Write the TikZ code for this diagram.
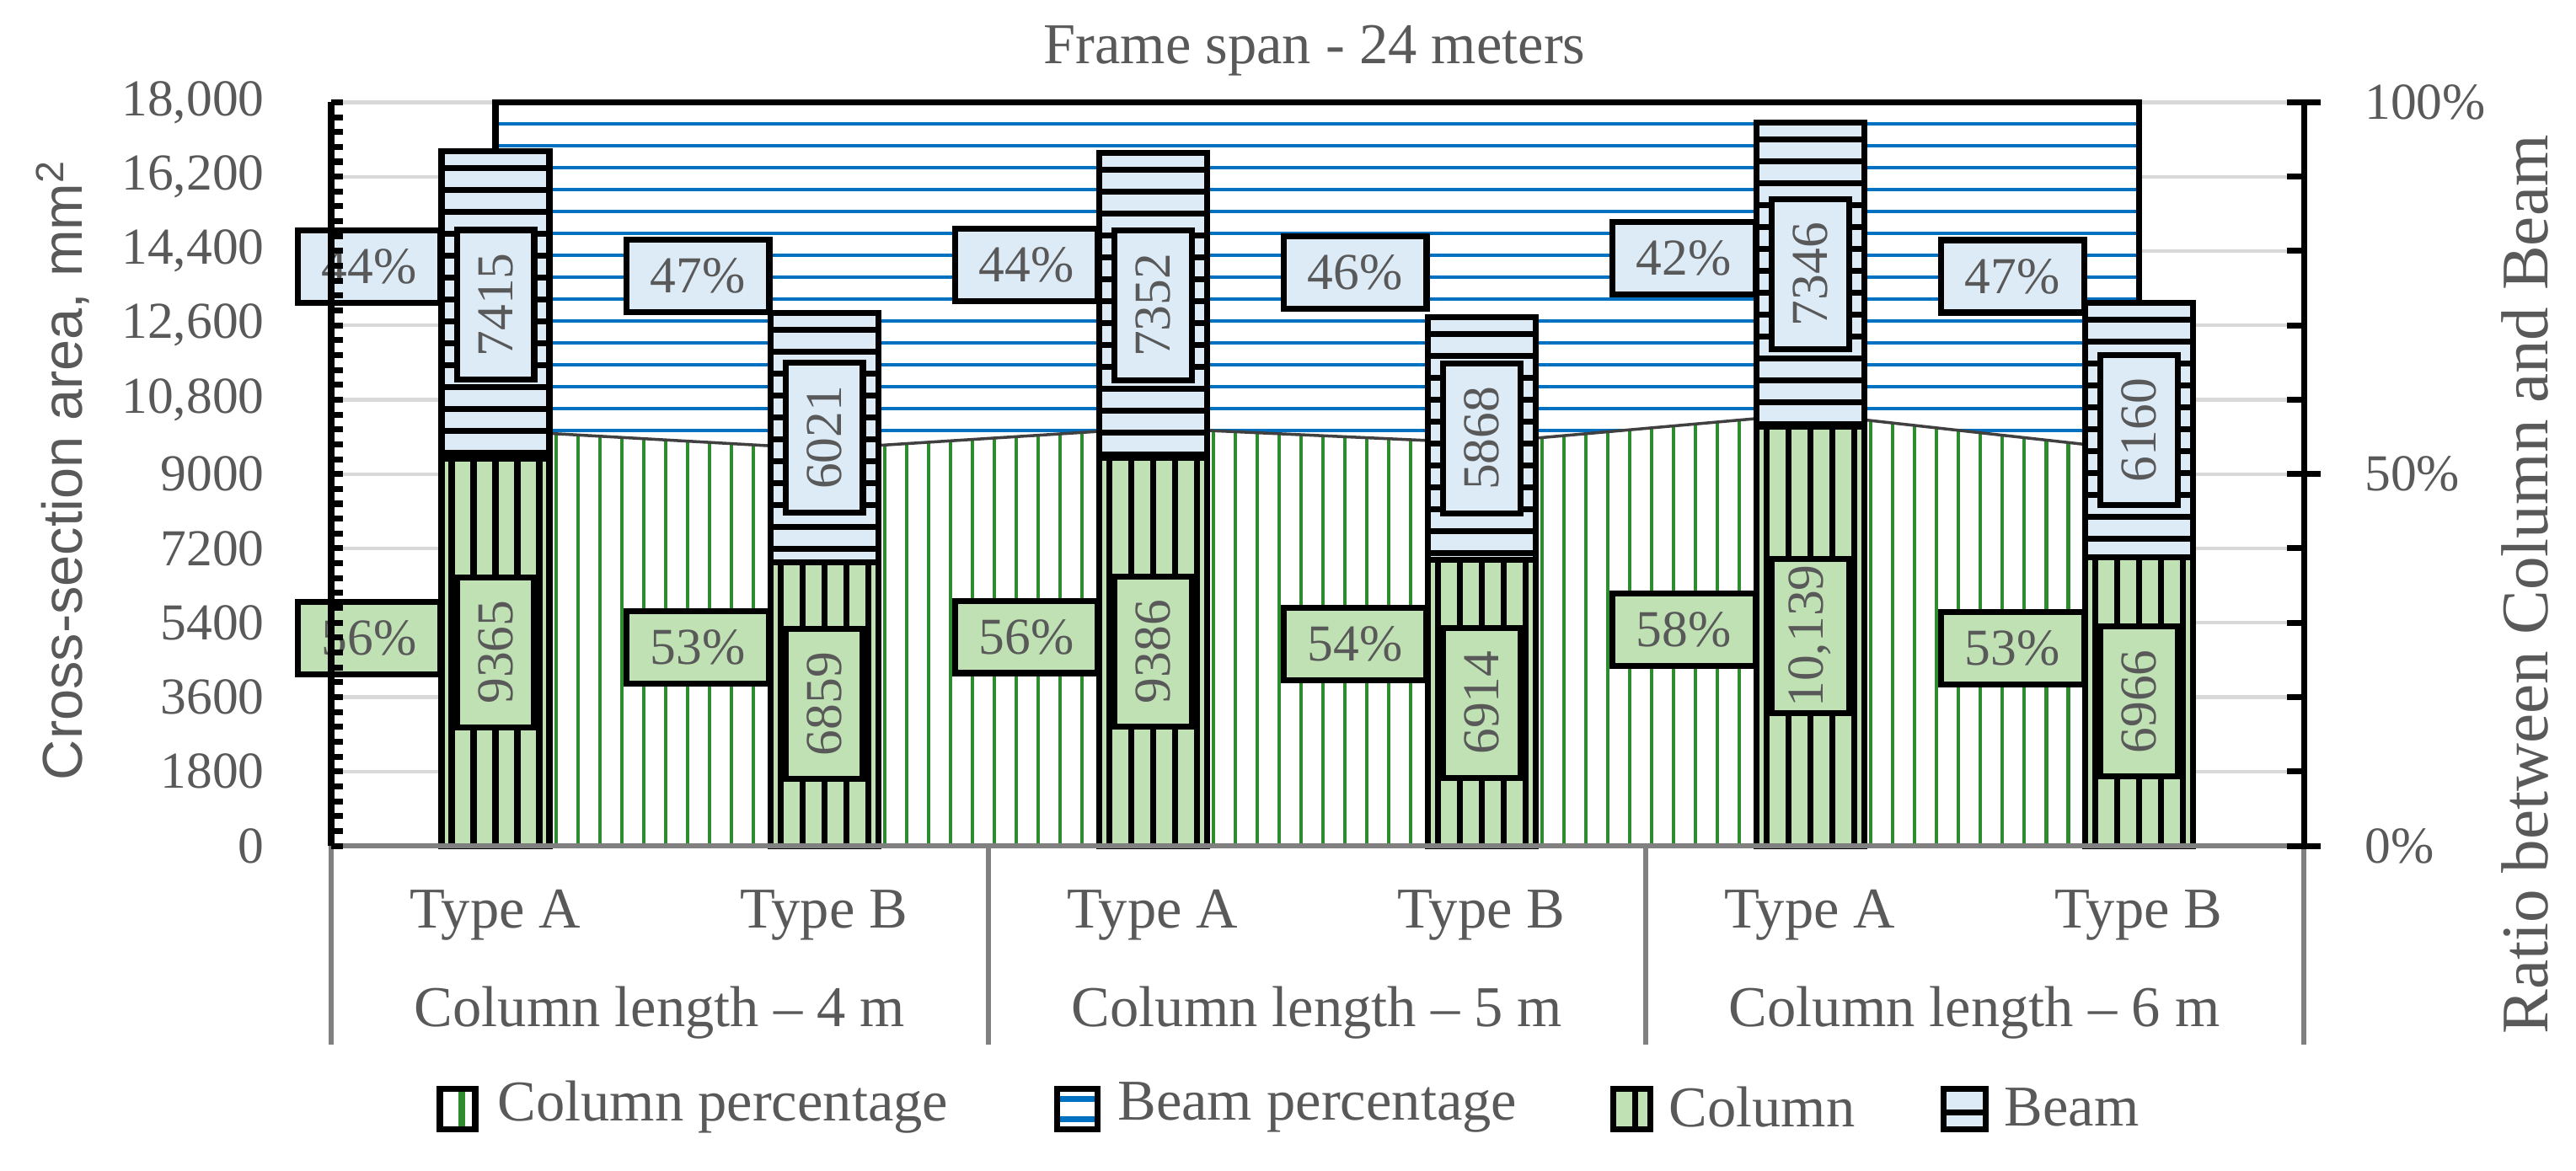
\documentclass[tikz,border=0pt]{standalone}
\usepackage{fontspec}
\setmainfont{Liberation Serif}
\newfontfamily\sansf{Liberation Sans}
\definecolor{txt}{HTML}{595959}
\definecolor{gfill}{HTML}{BFE1B4}
\definecolor{bfill}{HTML}{DDEBF7}
\definecolor{bline}{HTML}{0070C0}
\definecolor{gline}{HTML}{2E8B2E}
\definecolor{gridc}{HTML}{D9D9D9}
\definecolor{axg}{HTML}{808080}
\tikzset{
  tick/.style={font=\fontsize{17.5}{19}\selectfont, text=txt},
  cat/.style={font=\fontsize{19.5}{21}\selectfont, text=txt},
  blk/.style={line width=2pt, draw=black},
  pct/.style={blk, minimum width=1.7cm, minimum height=0.86cm, inner sep=1pt, font=\fontsize{17.5}{19}\selectfont, text=txt},
  vlab/.style={blk, rotate=90, minimum width=1.78cm, minimum height=0.92cm, inner sep=2pt, font=\fontsize{17.5}{19}\selectfont, text=txt},
  leg/.style={anchor=west, font=\fontsize{19.5}{21}\selectfont, text=txt}
}
\begin{document}
\begin{tikzpicture}[x=0.02cm,y=-0.02cm]
\useasboundingbox (0,0) rectangle (1528.5,694.5);
% grid
\foreach \i in {0,...,10} \draw[gridc, line width=1.2pt] (196.5,{502-44.13*\i}) -- (1367,{502-44.13*\i});
% column percentage area
\def\colpath{(294,502) -- (294,255.4) -- (489,266.4) -- (684,254.0) -- (879,262.9) -- (1074,245.6) -- (1269,267.3) -- (1269,502) -- cycle}
\def\beampath{(294,60.7) -- (1269,60.7) -- (1269,267.3) -- (1074,245.6) -- (879,262.9) -- (684,254.0) -- (489,266.4) -- (294,255.4) -- cycle}
\fill[white] \colpath;
\begin{scope}
\clip \colpath;
\foreach \x in {304,317,...,1270} \draw[gline, line width=1.4pt] (\x,230) -- (\x,502);
\end{scope}
\fill[white] \beampath;
\begin{scope}
\clip \beampath;
\foreach \y in {73.6,86.6,...,275} \draw[bline, line width=1.3pt] (290,\y) -- (1275,\y);
\end{scope}
\draw[black!75, line width=1pt] (294,255.4) -- (489,266.4) -- (684,254.0) -- (879,262.9) -- (1074,245.6) -- (1269,267.3);
\draw[black, line width=2pt] (294,255.4) -- (294,60.7) -- (1269,60.7) -- (1269,267.3);
% bars
\foreach \cx/\vc/\vt/\cl/\bl/\n in {294/9.365/16.780/9365/7415/a, 489/6.859/12.880/6859/6021/b, 684/9.386/16.738/9386/7352/c, 879/6.914/12.782/6914/5868/d, 1074/10.139/17.485/{10,139}/7346/e, 1269/6.966/13.126/6966/6160/f}{
  \pgfmathsetmacro{\yc}{502-\vc*24.556}
  \pgfmathsetmacro{\yt}{502-\vt*24.556}
  \fill[gfill] (\cx-32,502) rectangle (\cx+32,\yc);
  \begin{scope}
    \clip (\cx-32,502) rectangle (\cx+32,\yc);
    \foreach \d in {-26,-13,0,13,26} \draw[black, line width=2pt] (\cx+\d,502) -- (\cx+\d,\yc);
  \end{scope}
  \fill[bfill] (\cx-32,\yc) rectangle (\cx+32,\yt);
  \begin{scope}
    \clip (\cx-32,\yc) rectangle (\cx+32,\yt);
    \foreach \k in {0,...,16} \draw[black, line width=2pt] (\cx-32,\yt+10+13*\k) -- (\cx+32,\yt+10+13*\k);
  \end{scope}
  \draw[blk] (\cx-32,502) rectangle (\cx+32,\yc);
  \draw[blk] (\cx-32,\yc) rectangle (\cx+32,\yt);
  \node[vlab, fill=gfill] (col\n) at (\cx,{(\yc+502)/2}) {\cl};
  \node[vlab, fill=bfill] (bm\n) at (\cx,{(\yc+\yt)/2}) {\bl};
}
% percentage labels
\foreach \cx/\py/\cp/\bp/\n in {294/255.4/56/44/a, 489/266.4/53/47/b, 684/254.0/56/44/c, 879/262.9/54/46/d, 1074/245.6/58/42/e, 1269/267.3/53/47/f}{
  \node[pct, fill=gfill] (cp\n) at (\cx-75,{(\py+502)/2}) {\cp\%};
  \node[pct, fill=bfill] (bp\n) at (\cx-75,{(\py+60.7)/2}) {\bp\%};
}
% axes
\draw[axg, line width=1.5pt] (196.5,502) -- (1367,502);
\foreach \x in {196.5,586.5,976.5,1367} \draw[axg, line width=1.5pt] (\x,502) -- (\x,620);
\draw[black, line width=2pt] (196.5,60.7) -- (196.5,502);
\foreach \i in {0,...,50} \draw[black, line width=2pt] (196.5,{502-8.826*\i}) -- ++(7,0);
\foreach \i/\l in {0/0,1/1800,2/3600,3/5400,4/7200,5/9000,6/{10,800},7/{12,600},8/{14,400},9/{16,200},10/{18,000}}
  \node[tick, anchor=east] (yl\i) at (163,{502-44.13*\i}) {\l};
\draw[black, line width=2pt] (1367,60.7) -- (1367,502);
\foreach \i in {0,...,10} \draw[black, line width=2pt] (1367,{502-44.13*\i}) -- ++(-10,0);
\foreach \i in {0,5,10} \draw[black, line width=2pt] (1367,{502-44.13*\i}) -- ++(10,0);
\node[tick, anchor=west] (r0) at (1397,502) {0\%};
\node[tick, anchor=west] (r50) at (1397,281.4) {50\%};
\node[tick, anchor=west] (r100) at (1397,60.7) {100\%};
% category labels
\foreach \cx/\tp/\n in {294/A/1,489/B/2,684/A/3,879/B/4,1074/A/5,1269/B/6}
  \node[cat] (ty\n) at (\cx,543) {Type \tp};
\foreach \cx/\m in {391.5/4,781.5/5,1171.5/6}
  \node[cat] (gr\m) at (\cx,601) {Column length – \m\ m};
% titles
\node[font=\fontsize{19.5}{21}\selectfont, text=txt] (title) at (780,30) {Frame span - 24 meters};
\node[rotate=90, font=\sansf\fontsize{19}{21}\selectfont, text=txt] (ylab) at (37,279) {Cross-section area, mm\textsuperscript{2}};
\node[rotate=90, font=\fontsize{22.5}{24}\selectfont, text=txt] (rlab) at (1498,347) {Ratio between Column and Beam};
% legend
\fill[white] (261,646) rectangle (282,670);
\draw[gline, line width=2pt] (274,646) -- (274,670);
\draw[black, line width=2pt] (261,646) rectangle (282,670);
\node[leg] (lg1) at (289,657) {Column percentage};
\fill[white] (627,646) rectangle (651,670);
\draw[bline, line width=2pt] (627,652) -- (651,652);
\draw[bline, line width=2pt] (627,664) -- (651,664);
\draw[black, line width=2pt] (627,646) rectangle (651,670);
\node[leg] (lg2) at (657,657) {Beam percentage};
\fill[gfill] (957,646) rectangle (979,670);
\draw[black, line width=2pt] (970,646) -- (970,670);
\draw[black, line width=2pt] (957,646) rectangle (979,670);
\node[leg] (lg3) at (984,657) {Column};
\fill[bfill] (1153,646) rectangle (1178,670);
\draw[black, line width=2pt] (1153,660) -- (1178,660);
\draw[black, line width=2pt] (1153,646) rectangle (1178,670);
\node[leg] (lg4) at (1183,657) {Beam};
\end{tikzpicture}
\end{document}
